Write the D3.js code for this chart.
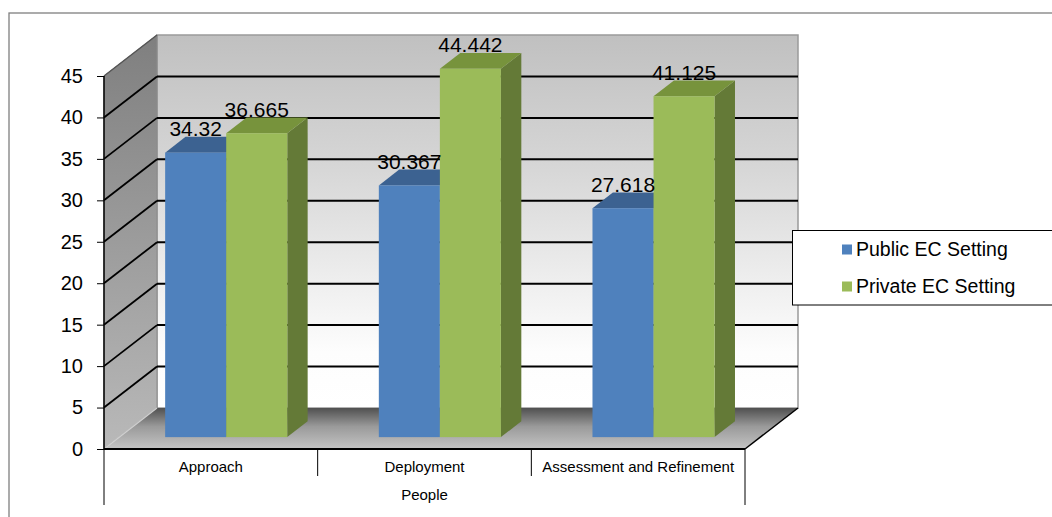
<!DOCTYPE html>
<html>
<head>
<meta charset="utf-8">
<script src="https://cdn.jsdelivr.net/npm/d3@7"></script>
<style>
  html, body { margin: 0; padding: 0; background: #fff; }
  svg { display: block; font-family: "Liberation Sans", Arial, sans-serif; }
</style>
</head>
<body>
<svg id="chart" width="1052" height="517"></svg>
<script>
// Chart data
const categories = ["Approach", "Deployment", "Assessment and Refinement"];
const seriesNames = ["Public EC Setting", "Private EC Setting"];
const publicValues = [34.32, 30.367, 27.618];
const privateValues = [36.665, 44.442, 41.125];
const yTickValues = [0, 5, 10, 15, 20, 25, 30, 35, 40, 45];
const axisTitle = "People";

const seriesValues = [publicValues, privateValues];
const frontColors = ["#4f81bd", "#9bbb59"];
const topColors = ["#3c6291", "#77933c"];
const sideColors = ["#385d8a", "#647a37"];

const svg = d3.select("#chart");

// Front plane of the 3-D box and the depth offset to the back wall
const frontLeft = 104, frontRight = 745;
const DX = 53, DY = -41;
const y = d3.scaleLinear().domain([0, 45]).range([449, 76]);
const x = d3.scaleBand().domain(categories).range([frontLeft, frontRight]).padding(0);
const catW = x.bandwidth();
const barW = catW / 3.5;
const xs = d3.scaleBand().domain(seriesNames).range([barW * 0.75, barW * 2.75]).padding(0);

// Bars occupy a slab between these depth fractions
const barFront = 0.29, barBack = 0.675;

const pt = (px, py) => px + "," + py;
const poly = pts => pts.map(p => pt(p[0], p[1])).join(" ");

// Outer chart frame
svg.append("rect")
  .attr("x", 9).attr("y", 13).attr("width", 1100).attr("height", 600)
  .attr("fill", "none").attr("stroke", "#7f7f7f").attr("stroke-width", 1.3);

const defs = svg.append("defs");
const backGrad = defs.append("linearGradient").attr("id", "backGrad")
  .attr("x1", 0).attr("y1", 0).attr("x2", 0).attr("y2", 1);
backGrad.append("stop").attr("offset", "0%").attr("stop-color", "#c0c0c0");
backGrad.append("stop").attr("offset", "35%").attr("stop-color", "#d6d6d6");
backGrad.append("stop").attr("offset", "85%").attr("stop-color", "#fdfdfd");
backGrad.append("stop").attr("offset", "100%").attr("stop-color", "#ffffff");

const sideGrad = defs.append("linearGradient").attr("id", "sideGrad")
  .attr("x1", 0).attr("y1", 0).attr("x2", 0).attr("y2", 1);
sideGrad.append("stop").attr("offset", "0%").attr("stop-color", "#7f7f7f");
sideGrad.append("stop").attr("offset", "100%").attr("stop-color", "#b9b9b9");

const floorGrad = defs.append("linearGradient").attr("id", "floorGrad")
  .attr("x1", 0).attr("y1", 0).attr("x2", 0).attr("y2", 1);
floorGrad.append("stop").attr("offset", "0%").attr("stop-color", "#505050");
floorGrad.append("stop").attr("offset", "45%").attr("stop-color", "#9a9a9a");
floorGrad.append("stop").attr("offset", "100%").attr("stop-color", "#c4c4c4");

const yb = v => y(v) + DY;

// Back wall
svg.append("polygon")
  .attr("points", poly([[frontLeft + DX, yb(45)], [frontRight + DX, yb(45)], [frontRight + DX, yb(0)], [frontLeft + DX, yb(0)]]))
  .attr("fill", "url(#backGrad)").attr("stroke", "#9a9a9a").attr("stroke-width", 1.5);

// Left side wall
svg.append("polygon")
  .attr("points", poly([[frontLeft, y(45)], [frontLeft + DX, yb(45)], [frontLeft + DX, yb(0)], [frontLeft, y(0)]]))
  .attr("fill", "url(#sideGrad)").attr("stroke", "#8a8a8a").attr("stroke-width", 1);

// Floor
svg.append("polygon")
  .attr("points", poly([[frontLeft, y(0)], [frontLeft + DX, yb(0)], [frontRight + DX, yb(0)], [frontRight, y(0)]]))
  .attr("fill", "url(#floorGrad)").attr("stroke", "none");
svg.append("line")
  .attr("x1", frontLeft).attr("y1", y(0)).attr("x2", frontLeft + DX).attr("y2", yb(0))
  .attr("stroke", "#d0d0d0").attr("stroke-width", 1.2);
svg.append("line")
  .attr("x1", frontRight).attr("y1", y(0)).attr("x2", frontRight + DX).attr("y2", yb(0))
  .attr("stroke", "#000").attr("stroke-width", 1.5);

// Gridlines on back wall and side wall
const gridVals = yTickValues.filter(v => v > 0 && v < 45);
svg.append("g").selectAll("line.back").data(gridVals).join("line")
  .attr("x1", frontLeft + DX).attr("x2", frontRight + DX)
  .attr("y1", d => yb(d)).attr("y2", d => yb(d))
  .attr("stroke", "#000").attr("stroke-width", 2);
svg.append("g").selectAll("line.side").data(gridVals).join("line")
  .attr("x1", frontLeft).attr("x2", frontLeft + DX)
  .attr("y1", d => y(d)).attr("y2", d => yb(d))
  .attr("stroke", "#000").attr("stroke-width", 1.8);
svg.append("line")
  .attr("x1", frontLeft).attr("y1", y(45)).attr("x2", frontLeft + DX).attr("y2", yb(45))
  .attr("stroke", "#555").attr("stroke-width", 1.5);

// Bars (3-D columns)
const fdx = barFront * DX, fdy = barFront * DY;
const ddx = (barBack - barFront) * DX, ddy = (barBack - barFront) * DY;
const barsG = svg.append("g");
const labelsG = svg.append("g");
categories.forEach((cat, ci) => {
  seriesNames.forEach((s, si) => {
    const v = seriesValues[si][ci];
    const x0 = x(cat) + xs(s) + fdx;
    const x1 = x0 + xs.bandwidth();
    const yt = y(v) + fdy;
    const y0 = y(0) + fdy;
    // side face
    barsG.append("polygon")
      .attr("points", poly([[x1, yt], [x1 + ddx, yt + ddy], [x1 + ddx, y0 + ddy], [x1, y0]]))
      .attr("fill", sideColors[si]);
    // top face
    barsG.append("polygon")
      .attr("points", poly([[x0, yt], [x1, yt], [x1 + ddx, yt + ddy], [x0 + ddx, yt + ddy]]))
      .attr("fill", topColors[si]);
    // front face
    barsG.append("rect")
      .attr("x", x0).attr("y", yt).attr("width", x1 - x0).attr("height", y0 - yt)
      .attr("fill", frontColors[si]);
    // value label
    labelsG.append("text")
      .attr("x", (x0 + x1) / 2).attr("y", yt + ddy - 0.5)
      .attr("text-anchor", "middle")
      .attr("font-size", 21).attr("fill", "#000")
      .text(v);
  });
});

// Value axis
const yAxisG = svg.append("g").attr("transform", `translate(${frontLeft},0)`)
  .call(d3.axisLeft(y).tickValues(yTickValues).tickSize(7).tickPadding(14).tickFormat(d3.format("d")));
yAxisG.select(".domain").attr("stroke", "#000").attr("stroke-width", 1.5).attr("d", `M0,${y(45)}V${y(0)}`);
yAxisG.selectAll(".tick line").attr("stroke", "#000").attr("stroke-width", 1);
yAxisG.selectAll(".tick text").attr("font-size", 20).attr("font-family", "Liberation Sans, Arial, sans-serif").attr("fill", "#000");

// Category axis
svg.append("line")
  .attr("x1", frontLeft).attr("x2", frontRight).attr("y1", y(0)).attr("y2", y(0))
  .attr("stroke", "#000").attr("stroke-width", 2);
const dividers = categories.slice(1).map(c => x(c));
svg.append("g").selectAll("line").data(dividers).join("line")
  .attr("x1", d => d).attr("x2", d => d).attr("y1", y(0)).attr("y2", 476)
  .attr("stroke", "#000").attr("stroke-width", 1);
svg.append("g").selectAll("line").data([frontLeft, frontRight]).join("line")
  .attr("x1", d => d).attr("x2", d => d).attr("y1", y(0)).attr("y2", 505)
  .attr("stroke", "#000").attr("stroke-width", 1);
svg.append("g").selectAll("text").data(categories).join("text")
  .attr("x", d => x(d) + catW / 2).attr("y", 472)
  .attr("text-anchor", "middle").attr("font-size", 15).attr("fill", "#000")
  .text(d => d);
svg.append("text")
  .attr("x", (frontLeft + frontRight) / 2).attr("y", 500)
  .attr("text-anchor", "middle").attr("font-size", 15).attr("fill", "#000")
  .text(axisTitle);

// Legend
const legend = svg.append("g");
legend.append("rect")
  .attr("x", 792.5).attr("y", 230.5).attr("width", 300).attr("height", 74.5)
  .attr("fill", "#fff").attr("stroke", "#000").attr("stroke-width", 1);
const legY = d3.scalePoint().domain(seriesNames).range([249.5, 286.5]);
legend.selectAll("rect.sw").data(seriesNames).join("rect")
  .attr("class", "sw")
  .attr("x", 842).attr("y", d => legY(d) - 5).attr("width", 10).attr("height", 10)
  .attr("fill", (d, i) => frontColors[i]);
legend.selectAll("text").data(seriesNames).join("text")
  .attr("x", 856).attr("y", d => legY(d)).attr("dy", "0.35em")
  .attr("font-size", 19.5).attr("fill", "#000")
  .text(d => d);
</script>
</body>
</html>
